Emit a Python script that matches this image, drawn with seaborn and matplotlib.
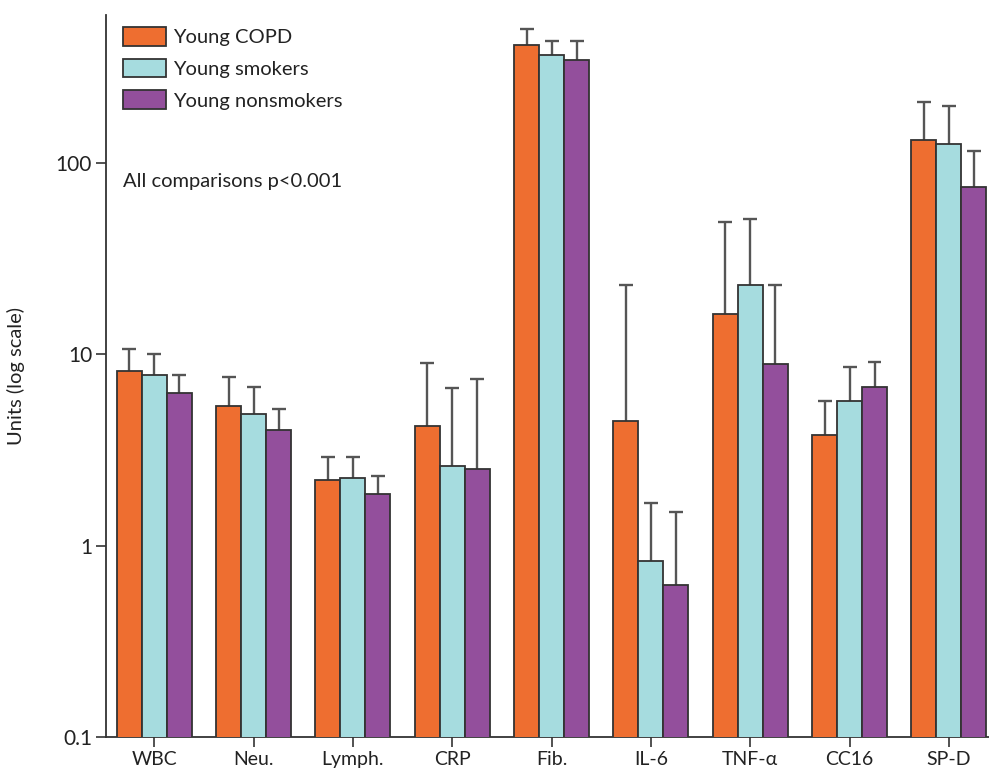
import numpy as np
import pandas as pd
import matplotlib
matplotlib.use("Agg")
import matplotlib.pyplot as plt
import seaborn as sns

# Biomarker means and upper error limits per group
markers = ["WBC", "Neu.", "Lymph.", "CRP", "Fib.", "IL-6", "TNF-\u03b1", "CC16", "SP-D"]
groups = ["Young COPD", "Young smokers", "Young nonsmokers"]

copd_mean = [8.15, 5.39, 2.21, 4.24, 414, 4.49, 16.3, 3.79, 132]
copd_upper = [10.7, 7.59, 2.91, 9.05, 500, 23.2, 49.4, 5.73, 210]
smokers_mean = [7.83, 4.86, 2.27, 2.62, 367, 0.835, 23.1, 5.73, 126]
smokers_upper = [10.05, 6.72, 2.91, 6.70, 436, 1.68, 51.3, 8.62, 199]
nonsmokers_mean = [6.28, 4.01, 1.86, 2.53, 345, 0.623, 8.91, 6.72, 74.7]
nonsmokers_upper = [7.83, 5.16, 2.32, 7.46, 436, 1.50, 23.1, 9.08, 115.6]

ytick_vals = [0.1, 1, 10, 100]
ytick_labels = ["0.1", "1", "10", "100"]

palette = ["#EE6E30", "#A6DCDF", "#934F9C"]

means = [copd_mean, smokers_mean, nonsmokers_mean]
uppers = [copd_upper, smokers_upper, nonsmokers_upper]

df = pd.DataFrame({
    "marker": np.tile(markers, len(groups)),
    "group": np.repeat(groups, len(markers)),
    "value": np.concatenate(means),
})

sns.set_style("ticks")
plt.rcParams["font.family"] = ["Lato", "DejaVu Sans"]

fig = plt.figure(figsize=(9.89, 7.71), dpi=100)
ax = fig.add_axes([106 / 989, 1 - 737 / 771, 883 / 989, (737 - 15) / 771])
ax.set_yscale("log")

sns.barplot(data=df, x="marker", y="value", hue="group", order=markers,
            hue_order=groups, palette=palette, width=0.755, errorbar=None,
            edgecolor="#333333", linewidth=1.3, saturation=1, ax=ax, zorder=3)

# Upper-only error bars placed on top of each bar
cap_half = 0.07
for gi, cont in enumerate(ax.containers):
    for bi, bar in enumerate(cont):
        xc = bar.get_x() + bar.get_width() / 2
        top = means[gi][bi]
        up = uppers[gi][bi]
        ax.vlines(xc, top, up, color="#555555", lw=1.7, zorder=2)
        ax.hlines(up, xc - cap_half, xc + cap_half, color="#555555", lw=1.7, zorder=2)

ax.set_xlim(-0.486, 8.404)
ax.set_ylim(0.1, 595)
ax.set_yticks(ytick_vals)
ax.set_yticklabels(ytick_labels)
ax.yaxis.set_minor_locator(matplotlib.ticker.NullLocator())
ax.set_xlabel("")
ax.set_ylabel("Units (log scale)", fontsize=14.5, color="#222222")
ax.yaxis.set_label_coords(-0.0917, 0.5)
ax.tick_params(axis="both", length=7, width=1.2, color="#333333",
               labelcolor="#222222")
ax.tick_params(axis="x", labelsize=14, pad=3)
ax.tick_params(axis="y", labelsize=15, pad=3)

for side in ["top", "right"]:
    ax.spines[side].set_visible(False)
for side in ["left", "bottom"]:
    ax.spines[side].set_color("#333333")
    ax.spines[side].set_linewidth(1.3)

leg = ax.legend(loc="upper left", bbox_to_anchor=(123 / 989, 1 - 27 / 771),
                bbox_transform=fig.transFigure, borderpad=0, borderaxespad=0,
                frameon=False, fontsize=14.5, handlelength=2.15, handleheight=1.05,
                handletextpad=0.33, labelspacing=0.62)
for h in leg.legend_handles:
    h.set_edgecolor("#333333")
    h.set_linewidth(1.3)
for t in leg.get_texts():
    t.set_color("#222222")

ax.text(123, 771 - 182, "All comparisons p<0.001", transform=None,
        fontsize=14.5, color="#222222", va="center", ha="left")

fig.savefig("out.png", dpi=100)
